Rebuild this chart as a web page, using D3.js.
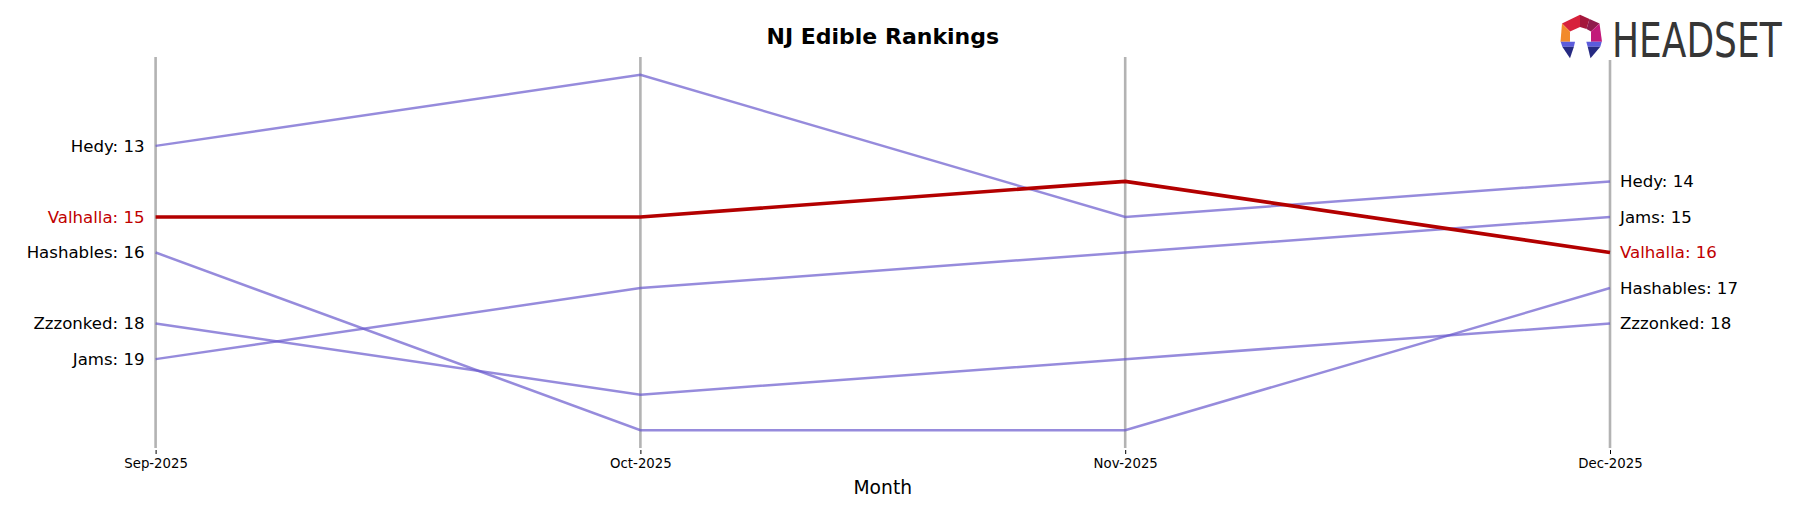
<!DOCTYPE html>
<html>
<head>
<meta charset="utf-8">
<script src="https://cdn.jsdelivr.net/npm/d3@7"></script>
<style>
  html, body { margin: 0; padding: 0; background: #fff; }
  svg { display: block; }
  text { font-family: "DejaVu Sans", sans-serif; }
</style>
</head>
<body>
<svg id="chart" width="1794" height="507"></svg>
<script>
// ---- data ----
const months = ["Sep-2025", "Oct-2025", "Nov-2025", "Dec-2025"];
const brands = ["Hedy", "Valhalla", "Hashables", "Zzzonked", "Jams"];
const hedyRanks = [13, 11, 15, 14];
const valhallaRanks = [15, 15, 14, 16];
const hashablesRanks = [16, 21, 21, 17];
const zzzonkedRanks = [18, 20, 19, 18];
const jamsRanks = [19, 17, 16, 15];
const highlightBrand = "Valhalla";
const titleText = "NJ Edible Rankings";
const xAxisLabel = "Month";
const rankDomain = [10.5, 21.5];

const seriesList = [
  { name: "Hedy", ranks: hedyRanks },
  { name: "Valhalla", ranks: valhallaRanks },
  { name: "Hashables", ranks: hashablesRanks },
  { name: "Zzzonked", ranks: zzzonkedRanks },
  { name: "Jams", ranks: jamsRanks }
];

// ---- layout ----
const svg = d3.select("#chart");
const plotLeft = 155.6, plotRight = 1610, plotTop = 57, plotBottom = 448;

const x = d3.scalePoint().domain(months).range([plotLeft, plotRight]);
const y = d3.scaleLinear().domain(rankDomain).range([plotTop, plotBottom]);

// vertical month lines
svg.append("g").selectAll("line").data(months).join("line")
  .attr("x1", d => x(d)).attr("x2", d => x(d))
  .attr("y1", plotTop).attr("y2", plotBottom)
  .attr("stroke", "#b3b3b3").attr("stroke-width", 2.6);

// x axis (ticks only, no domain)
const xAxis = d3.axisBottom(x).tickSizeOuter(0).tickSize(4).tickPadding(5);
const gx = svg.append("g").attr("transform", `translate(0,${plotBottom + 2})`).call(xAxis);
gx.select(".domain").remove();
gx.selectAll(".tick line").attr("stroke", "#000").attr("stroke-width", 1);
gx.selectAll(".tick text").attr("font-size", "13.3px").attr("fill", "#000")
  .attr("font-family", "DejaVu Sans, sans-serif");

// lines
const lineGen = d3.line().x((d, i) => x(months[i])).y(d => y(d));
const others = seriesList.filter(s => s.name !== highlightBrand);
const hi = seriesList.filter(s => s.name === highlightBrand);

svg.append("g").selectAll("path").data(others).join("path")
  .attr("d", d => lineGen(d.ranks))
  .attr("fill", "none")
  .attr("stroke", "#6a5acd").attr("stroke-opacity", 0.7)
  .attr("stroke-width", 2.5);

svg.append("g").selectAll("path").data(hi).join("path")
  .attr("d", d => lineGen(d.ranks))
  .attr("fill", "none")
  .attr("stroke", "#b30000")
  .attr("stroke-width", 3.6);

// labels
const labelColor = d => d.name === highlightBrand ? "#c00000" : "#000";
svg.append("g").selectAll("text").data(seriesList).join("text")
  .attr("x", x(months[0]) - 11)
  .attr("y", d => y(d.ranks[0]))
  .attr("dy", "0.35em")
  .attr("text-anchor", "end")
  .attr("font-size", "16.6px")
  .attr("fill", labelColor)
  .text(d => `${d.name}: ${d.ranks[0]}`);

const last = months.length - 1;
svg.append("g").selectAll("text").data(seriesList).join("text")
  .attr("x", x(months[last]) + 10)
  .attr("y", d => y(d.ranks[last]))
  .attr("dy", "0.35em")
  .attr("text-anchor", "start")
  .attr("font-size", "16.6px")
  .attr("fill", labelColor)
  .text(d => `${d.name}: ${d.ranks[last]}`);

// title
svg.append("text")
  .attr("x", (plotLeft + plotRight) / 2).attr("y", 44)
  .attr("text-anchor", "middle")
  .attr("font-size", "22px").attr("font-weight", "bold")
  .attr("fill", "#000")
  .text(titleText);

// axis label
svg.append("text")
  .attr("x", (plotLeft + plotRight) / 2).attr("y", 494)
  .attr("text-anchor", "middle")
  .attr("font-size", "18.7px")
  .attr("fill", "#000")
  .text(xAxisLabel);

// ---- logo ----
svg.append("rect").attr("x", 1556).attr("y", 12).attr("width", 232).attr("height", 48).attr("fill", "#fff");
const logo = svg.append("g").attr("transform", "translate(1581.5,36)");
const pieces = [
  { pts: [[-1.5,-21.3],[-1.5,-9],[-11.5,-4.5],[-19.5,-12.5]], c: "#d7213b" },
  { pts: [[-1.5,-21.3],[8,-17],[5,-7],[-1.5,-9]], c: "#a4173c" },
  { pts: [[8,-17],[18,-12.5],[9.5,-4.5],[5,-7]], c: "#8f1b4d" },
  { pts: [[-19.5,-12.5],[-11.5,-4.5],[-11.5,5.7],[-21,5.7]], c: "#f28a2b" },
  { pts: [[18,-12.5],[20.5,5.7],[9.5,5.7],[9.5,-4.5]], c: "#c21a7a" },
  { pts: [[-20.8,5.7],[-6.5,5.7],[-7.6,10.7],[-19.2,10.7]], c: "#5c5cdc" },
  { pts: [[-19.2,10.7],[-7.6,10.7],[-11.5,22.3]], c: "#262a82" },
  { pts: [[4.8,5.7],[20.2,5.7],[18.8,10.7],[6.2,10.7]], c: "#5c5cdc" },
  { pts: [[6.2,10.7],[18.8,10.7],[9,22.3]], c: "#262a82" }
];
logo.selectAll("polygon").data(pieces).join("polygon")
  .attr("points", d => d.pts.map(p => p.join(",")).join(" "))
  .attr("fill", d => d.c);
svg.append("text")
  .attr("transform", "translate(1612,56.5) scale(0.75,1)")
  .attr("x", 0).attr("y", 0)
  .attr("font-family", "DejaVu Sans, sans-serif")
  .attr("font-size", "48px")
  .attr("fill", "#363636")
  .text("HEADSET");
</script>
</body>
</html>
